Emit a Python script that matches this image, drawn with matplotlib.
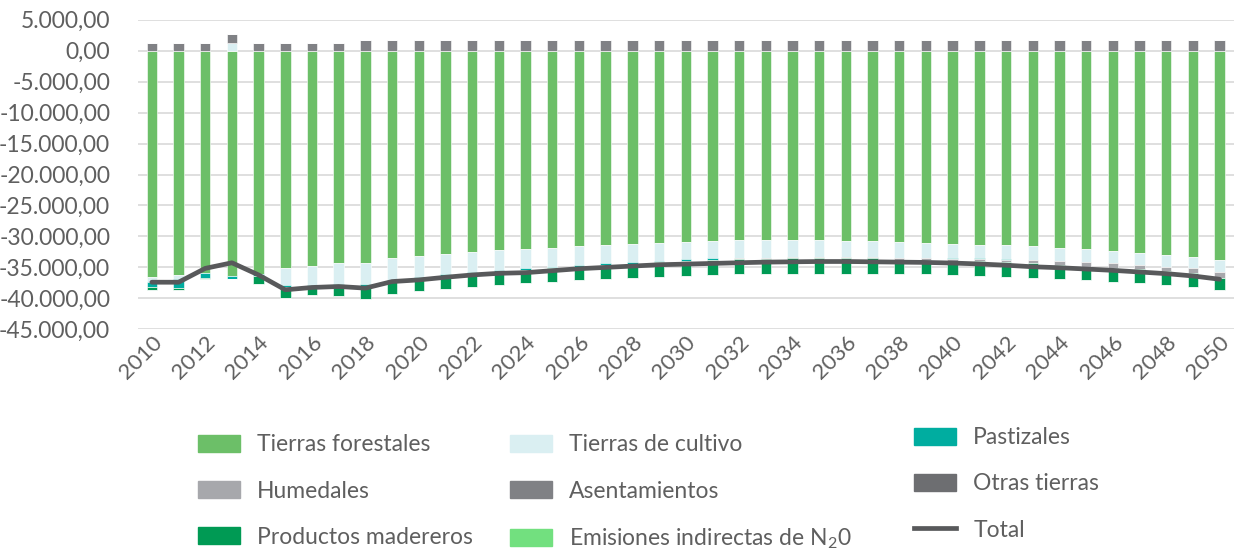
import numpy as np
import matplotlib.pyplot as plt
from matplotlib.patches import Patch
from matplotlib.lines import Line2D
from matplotlib.ticker import FuncFormatter
from matplotlib.transforms import ScaledTranslation

plt.rcParams['font.family'] = ['Lato', 'DejaVu Sans']
plt.rcParams['mathtext.default'] = 'regular'

years = list(range(2010, 2051))

# series values
forestales = [-36490, -36224, -35958, -36384, -36118, -35160, -34735, -34256, -34256, -33564,
              -33192, -32873, -32500, -32234, -32075, -31809, -31543, -31436, -31277, -31064,
              -30904, -30798, -30638, -30638, -30638, -30638, -30692, -30798, -30904, -31011,
              -31170, -31330, -31436, -31596, -31862, -32075, -32341, -32660, -32926, -33352,
              -33830]
cultivo = [-850, -690, 0, 1290, 0, -2660, -3085, -3458, -3458, -3458,
           -3298, -3245, -3299, -3192, -3085, -3085, -3085, -2926, -2926, -2926,
           -2820, -2766, -2820, -2767, -2660, -2660, -2606, -2500, -2501, -2394,
           -2394, -2234, -2288, -2234, -2128, -2128, -2021, -1968, -1968, -1808,
           -1862]
pastizales = [-850, -1435, -800, -480, -200, -426, -426, -266, -372, -266,
              -373, -266, -266, -266, -266, -266, -266, -266, -266, -213,
              -213, -266, -80, -80, -80, -80, -80, -80, -80, -80,
              -80, -80, -80, 0, 0, 0, 0, 0, 0, 0,
              0]
humedales = [0, 0, 0, 0, 0, 0, 0, 0, 0, 0,
             0, 0, 0, 0, 0, 0, 0, 0, 0, 0,
             0, 0, -186, -186, -186, -186, -186, -186, -345, -345,
             -293, -293, -292, -532, -638, -691, -692, -692, -692, -692,
             -958]
asentamientos = [1290, 1290, 1290, 1410, 1290, 1290, 1290, 1290, 1730, 1730,
                 1730, 1730, 1730, 1730, 1730, 1730, 1730, 1730, 1730, 1730,
                 1730, 1730, 1730, 1730, 1730, 1730, 1730, 1730, 1730, 1730,
                 1730, 1730, 1730, 1730, 1730, 1730, 1730, 1730, 1730, 1730,
                 1730]
otras = [0] * 41
madereros = [-535, -375, -100, 0, -1400, -1702, -1277, -1596, -1969, -2022,
             -2021, -2075, -2128, -2128, -2128, -2128, -2128, -2235, -2181, -2287,
             -2394, -2394, -2394, -2394, -2448, -2448, -2448, -2501, -2288, -2288,
             -2287, -2447, -2394, -2288, -2235, -2182, -2234, -2234, -2234, -2341,
             -2075]
emisiones = [0] * 41
total = [-37395, -37400, -35160, -34256, -36224, -38618, -38246, -38086, -38352, -37288,
         -37022, -36597, -36224, -35958, -35852, -35533, -35214, -35001, -34788, -34575,
         -34470, -34360, -34250, -34150, -34100, -34050, -34050, -34100, -34150, -34200,
         -34300, -34450, -34650, -34900, -35054, -35267, -35480, -35746, -36012, -36384,
         -36916]

series = [
    ('Tierras forestales', forestales, '#6cbf68'),
    ('Tierras de cultivo', cultivo, '#daeff2'),
    ('Pastizales', pastizales, '#00ada0'),
    ('Humedales', humedales, '#a7a8ac'),
    ('Asentamientos', asentamientos, '#808185'),
    ('Otras tierras', otras, '#6d6e71'),
    ('Productos madereros', madereros, '#009a54'),
    ('Emisiones indirectas de N$_2$0', emisiones, '#72e07f'),
]
txt = '#5f5f5f'

fig = plt.figure(figsize=(12.34, 5.54), dpi=100)
ax = fig.add_axes([0.1118, 0.4056, 0.888, 0.5588])

x = np.arange(len(years))
pos_bottom = np.zeros(len(years))
neg_bottom = np.zeros(len(years))
for name, vals, col in series:
    v = np.array(vals, dtype=float)
    pos = np.where(v > 0, v, 0)
    neg = np.where(v < 0, v, 0)
    ax.bar(x, pos, 0.39, bottom=pos_bottom, color=col, edgecolor='white', linewidth=0.4, zorder=2)
    ax.bar(x, neg, 0.39, bottom=neg_bottom, color=col, edgecolor='white', linewidth=0.4, zorder=2)
    pos_bottom += pos
    neg_bottom += neg

ax.plot(x, total, color='#58595b', lw=3.4, solid_capstyle='round', zorder=3)

ax.set_xlim(-0.52, 40.53)
ax.set_ylim(-45000, 5000)
ax.set_yticks(np.arange(-45000, 5001, 5000))
fmt = lambda v, p: f"{v:,.2f}".replace(',', 'X').replace('.', ',').replace('X', '.')
ax.yaxis.set_major_formatter(FuncFormatter(fmt))
ax.grid(axis='y', color='#d9d9d9', lw=1.2, zorder=0)
ax.set_axisbelow(True)
for s in ax.spines.values():
    s.set_visible(False)

ax.set_xticks(x[::2])
ax.set_xticklabels([str(y) for y in years[::2]], rotation=45, ha='right', va='center',
                   rotation_mode='anchor')
ax.tick_params(axis='x', length=0, pad=7, labelsize=16, labelcolor=txt)
ax.tick_params(axis='y', length=0, pad=20, labelsize=16.5, labelcolor=txt)
shift = ScaledTranslation(5 / 72, 0, fig.dpi_scale_trans)
for lab in ax.get_xticklabels():
    lab.set_transform(lab.get_transform() + shift)

# legend
h1 = [Patch(color=c) for _, _, c in series]
names = [n for n, _, _ in series]
order = [0, 3, 6, 1, 4, 7]
leg_kw = dict(frameon=False, fontsize=16.5, labelcolor=txt, handlelength=1.85,
              handleheight=0.75, handletextpad=0.75, labelspacing=1.1)
fig.legend([h1[i] for i in order], [names[i] for i in order], ncol=2,
           loc='upper left', bbox_to_anchor=(0.1435, 0.253), columnspacing=1.6, **leg_kw)
h2 = [h1[2], h1[5], Line2D([], [], color='#58595b', lw=3.4)]
fig.legend(h2, ['Pastizales', 'Otras tierras', 'Total'], loc='upper left',
           bbox_to_anchor=(0.7237, 0.266), **leg_kw)

fig.savefig('out.png', dpi=100)
